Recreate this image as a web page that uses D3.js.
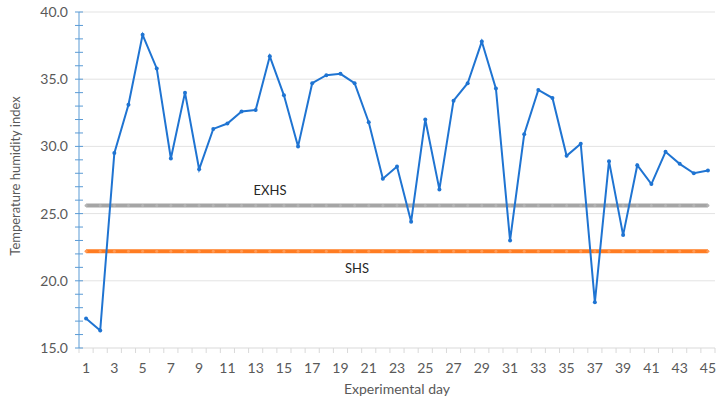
<!DOCTYPE html>
<html>
<head>
<meta charset="utf-8">
<script src="https://d3js.org/d3.v7.min.js"></script>
<style>
  body { margin: 0; background: #fff; }
  text { font-family: Lato, "Open Sans", sans-serif; fill: #595959; }
</style>
</head>
<body>
<svg id="chart" width="721" height="404"></svg>
<script>
// data
const days = d3.range(1, 46);
const thi = [17.2, 16.3, 29.5, 33.1, 38.3, 35.8, 29.1, 34.0, 28.3, 31.3,
             31.7, 32.6, 32.7, 36.7, 33.8, 30.0, 34.7, 35.3, 35.4, 34.7,
             31.8, 27.6, 28.5, 24.4, 32.0, 26.8, 33.4, 34.7, 37.8, 34.3,
             23.0, 30.9, 34.2, 33.6, 29.3, 30.2, 18.4, 28.9, 23.4, 28.6,
             27.2, 29.6, 28.7, 28.0, 28.2];
const exhs = days.map(() => 25.6);
const shs = days.map(() => 22.2);
const yTicks = [15, 20, 25, 30, 35, 40];
const xTickLabels = days.filter(d => d % 2 == 1);

const svg = d3.select("#chart");
const mLeft = 79, mRight = 715, mTop = 12, mBottom = 348;

const x = d3.scaleBand().domain(days).range([mLeft, mRight]);
const y = d3.scaleLinear().domain([15, 40]).range([mBottom, mTop]);
const cx = d => x(d) + x.bandwidth() / 2;

// gridlines
svg.append("g").selectAll("line").data(yTicks.slice(1)).join("line")
  .attr("x1", mLeft).attr("x2", mRight)
  .attr("y1", d => y(d)).attr("y2", d => y(d))
  .attr("stroke", "#e3e3e3").attr("stroke-width", 1);

// x axis
const xAxis = svg.append("g").attr("transform", "translate(0," + mBottom + ")");
xAxis.append("line").attr("x1", mLeft).attr("x2", mRight).attr("stroke", "#d9d9d9");
xAxis.selectAll("line.tk").data(days.concat([46])).join("line").attr("class", "tk")
  .attr("x1", d => d == 46 ? mRight : x(d)).attr("x2", d => d == 46 ? mRight : x(d))
  .attr("y1", 0).attr("y2", 5).attr("stroke", "#d9d9d9");
xAxis.selectAll("text").data(xTickLabels).join("text")
  .attr("x", d => cx(d)).attr("y", 25)
  .attr("text-anchor", "middle").style("font-size", "14px").text(d => d);

// y axis (blue, with minor ticks)
const yAxis = svg.append("g");
yAxis.append("line").attr("x1", mLeft).attr("x2", mLeft).attr("y1", mTop).attr("y2", mBottom)
  .attr("stroke", "#5b9bd5").attr("stroke-width", 1);
yAxis.selectAll("line.tk").data(d3.range(15, 41)).join("line").attr("class", "tk")
  .attr("x1", mLeft - 4).attr("x2", mLeft + 4)
  .attr("y1", d => y(d)).attr("y2", d => y(d))
  .attr("stroke", "#5b9bd5");
yAxis.selectAll("text").data(yTicks).join("text")
  .attr("x", mLeft - 11).attr("y", d => y(d) + 5)
  .attr("text-anchor", "end").style("font-size", "14px").text(d => d.toFixed(1));

// axis titles
svg.append("text").attr("transform", "translate(20," + 176 + ") rotate(-90)")
  .attr("text-anchor", "middle").style("font-size", "13px").text("Temperature humidity index");
svg.append("text").attr("x", (mLeft + mRight) / 2).attr("y", 394)
  .attr("text-anchor", "middle").style("font-size", "14px").text("Experimental day");

const line = d3.line().x((d, i) => cx(days[i])).y(d => y(d));

// threshold series
function flat(vals, color, dot) {
  svg.append("path").datum(vals).attr("d", line)
    .attr("fill", "none").attr("stroke", color).attr("stroke-width", 4);
  svg.append("g").selectAll("circle").data(vals).join("circle")
    .attr("cx", (d, i) => cx(days[i])).attr("cy", d => y(d)).attr("r", 1.5)
    .attr("fill", dot);
}
flat(exhs, "#a5a5a5", "#b4b4b4");
flat(shs, "#ff7c22", "#ff9a55");

svg.append("text").attr("x", 270).attr("y", 195).attr("text-anchor", "middle")
  .style("font-size", "13px").style("fill", "#262626").text("EXHS");
svg.append("text").attr("x", 357).attr("y", 273).attr("text-anchor", "middle")
  .style("font-size", "13px").style("fill", "#262626").text("SHS");

// THI series
svg.append("path").datum(thi).attr("d", line)
  .attr("fill", "none").attr("stroke", "#1f74d2").attr("stroke-width", 2);
svg.append("g").selectAll("circle").data(thi).join("circle")
  .attr("cx", (d, i) => cx(days[i])).attr("cy", d => y(d)).attr("r", 2)
  .attr("fill", "#1f74d2");
</script>
</body>
</html>
